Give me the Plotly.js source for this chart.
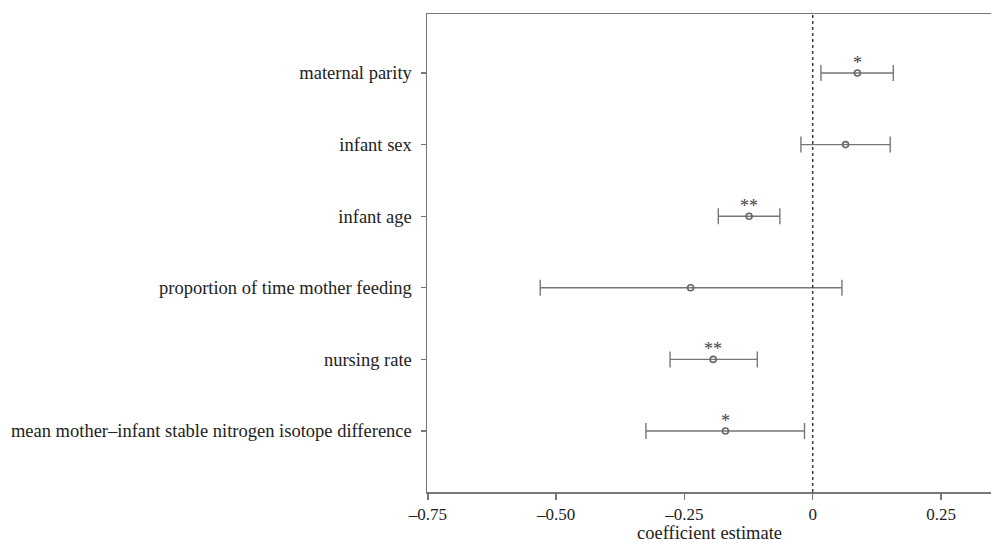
<!DOCTYPE html>
<html>
<head>
<meta charset="utf-8">
<script src="https://cdn.plot.ly/plotly-3.0.1.min.js"></script>
<style>html,body{margin:0;padding:0;background:#fff}#chart{width:991px;height:540px}</style>
</head>
<body>
<div id="chart"></div>
<script>
var predictors = ["maternal parity","infant sex","infant age","proportion of time mother feeding","nursing rate","mean mother\u2013infant stable nitrogen isotope difference"];
var estimate = [0.087, 0.064, -0.124, -0.238, -0.194, -0.170];
var ciLow = [0.016, -0.023, -0.184, -0.531, -0.278, -0.325];
var ciHigh = [0.157, 0.151, -0.064, 0.057, -0.108, -0.016];
var significance = ["*", "", "**", "", "**", "*"];
var xTickVals = [-0.75, -0.5, -0.25, 0, 0.25];
var xTickText = ["\u20130.75", "\u20130.50", "\u20130.25", "0", "0.25"];
var xTitle = "coefficient estimate";

var plus = estimate.map(function(e,i){return ciHigh[i]-e;});
var minus = estimate.map(function(e,i){return e-ciLow[i];});

var serif = "Liberation Serif, Times New Roman, serif";
var trace = {
  type: "scatter",
  mode: "markers",
  x: estimate,
  y: predictors,
  marker: {symbol: "circle-open", size: 6, color: "#666", line: {width: 1.6, color: "#666"}},
  error_x: {type: "data", symmetric: false, array: plus, arrayminus: minus, color: "#777", thickness: 1.4, width: 8},
  hoverinfo: "x+y",
  cliponaxis: false
};

var annotations = [];
significance.forEach(function(s, i){
  if (!s) return;
  annotations.push({
    xref: "x", yref: "y", x: estimate[i], y: predictors[i], text: s,
    showarrow: false, xanchor: "center", yanchor: "middle", yshift: 10,
    font: {family: serif, size: 18, color: "#444"}
  });
});
annotations.push({
  xref: "paper", yref: "paper", x: 0.5, y: 0, yshift: -29, text: xTitle,
  showarrow: false, xanchor: "center", yanchor: "top",
  font: {family: serif, size: 18.5, color: "#222"}
});

var layout = {
  width: 991, height: 540,
  margin: {l: 427, r: 0, t: 14, b: 48, pad: 0},
  paper_bgcolor: "#fff", plot_bgcolor: "#fff",
  showlegend: false,
  font: {family: serif, size: 18.5, color: "#222"},
  xaxis: {
    range: [-0.7516, 0.3474],
    tickvals: xTickVals, ticktext: xTickText,
    ticks: "outside", ticklen: 6, tickwidth: 1.4, tickcolor: "#777",
    showline: true, linecolor: "#777", linewidth: 1.5, mirror: true,
    showgrid: false, zeroline: false,
    tickfont: {family: serif, size: 17, color: "#222"}
  },
  yaxis: {
    type: "category",
    range: [5.852, -0.824],
    ticks: "outside", ticklen: 5, tickwidth: 1.4, tickcolor: "#777",
    ticklabelstandoff: 5,
    showline: true, linecolor: "#777", linewidth: 1.5, mirror: false,
    showgrid: false, zeroline: false,
    tickfont: {family: serif, size: 18.5, color: "#222"}
  },
  annotations: annotations,
  shapes: [{
    type: "line", xref: "x", yref: "paper", x0: 0, x1: 0, y0: 0, y1: 1,
    line: {color: "#333", width: 1.4, dash: "3px,3px"}
  }]
};

Plotly.newPlot("chart", [trace], layout, {staticPlot: true, displayModeBar: false});
</script>
</body>
</html>
